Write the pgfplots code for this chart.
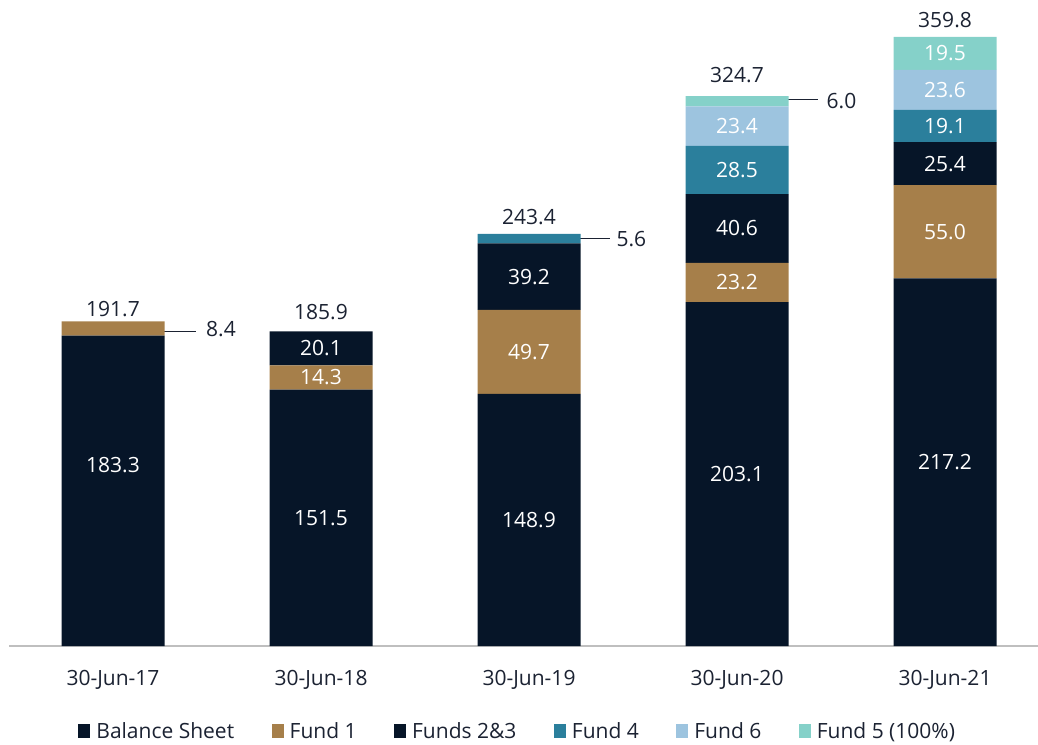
\documentclass[border=0pt]{standalone}
\usepackage{pgfplots}
\pgfplotsset{compat=1.18}
\usepackage{fontspec}
\setmainfont{Open Sans}
\definecolor{navy}{HTML}{061528}
\definecolor{gold}{HTML}{A67F4A}
\definecolor{teal}{HTML}{2B7F9C}
\definecolor{lblue}{HTML}{9DC4DF}
\definecolor{mint}{HTML}{85D1C9}
\definecolor{labdark}{HTML}{1B2232}
\definecolor{axisgray}{HTML}{BFBFBF}
\newcommand{\lf}{\fontsize{21}{25}\selectfont}
\pgfplotsset{
  seglabel/.style={
    draw=none,
    visualization depends on=rawy \as \myrawy,
    nodes near coords={\ifdim\myrawy pt<9pt\relax\else\pgfmathprintnumber[fixed,fixed zerofill,precision=1,assume math mode=true]{\myrawy}\fi},
    every node near coord/.style={anchor=center, text=white, font=\lf,
      yshift={(\myrawy>183)*(\myrawy<184)*25.5pt}},
  },
}
\begin{document}
\begin{tikzpicture}
\useasboundingbox (-9.3pt,-98pt) rectangle (1028.7pt,646pt);
\begin{axis}[
  at={(0,0)}, anchor=south west, scale only axis,
  x=208pt, y=1.693pt,
  xmin=-0.4986, xmax=4.4471, ymin=0, ymax=381.6,
  ybar stacked, bar width=103pt,
  axis x line=bottom, axis y line=none,
  x axis line style={-, draw=axisgray, line width=1.5pt},
  xtick={0,1,2,3,4},
  xticklabels={30-Jun-17,30-Jun-18,30-Jun-19,30-Jun-20,30-Jun-21},
  major tick length=0pt, ytick=\empty,
  xticklabel style={font=\lf, text=labdark, yshift=-20.5pt},
  clip=false,
  legend columns=6,
  legend image code/.code={\fill[#1] (0pt,-7pt) rectangle (12pt,7pt); \path (16pt,0pt);},
  legend style={at={(0.4942,-0.1315)}, anchor=center, draw=none, fill=none,
    font=\lf, text=labdark,
    /tikz/every even column/.append style={column sep=35.5pt},
    /tikz/every odd column/.append style={column sep=0pt}},
]
\addplot[fill=navy, seglabel] coordinates {(0,183.3) (1,151.5) (2,148.9) (3,203.1) (4,217.2)};
\addplot[fill=gold, seglabel] coordinates {(0,8.4) (1,14.3) (2,49.7) (3,23.2) (4,55.0)};
\addplot[fill=navy, seglabel] coordinates {(0,0) (1,20.1) (2,39.2) (3,40.6) (4,25.4)};
\addplot[fill=teal, seglabel] coordinates {(0,0) (1,0) (2,5.6) (3,28.5) (4,19.1)};
\addplot[fill=lblue, seglabel] coordinates {(0,0) (1,0) (2,0) (3,23.4) (4,23.6)};
\addplot[fill=mint, seglabel] coordinates {(0,0) (1,0) (2,0) (3,6.0) (4,19.5)};
\legend{Balance Sheet, Fund 1, Funds 2\&3, Fund 4, Fund 6, Fund 5 (100\%)}
% totals
\node[anchor=base, inner sep=0pt, text=labdark, font=\lf, yshift=5pt] at (axis cs:0,191.7) {191.7};
\node[anchor=base, inner sep=0pt, text=labdark, font=\lf, yshift=11.5pt] at (axis cs:1,185.9) {185.9};
\node[anchor=base, inner sep=0pt, text=labdark, font=\lf, yshift=9pt] at (axis cs:2,243.4) {243.4};
\node[anchor=base, inner sep=0pt, text=labdark, font=\lf, yshift=14pt] at (axis cs:3,324.8) {324.7};
\node[anchor=base, inner sep=0pt, text=labdark, font=\lf, yshift=9pt] at (axis cs:4,359.8) {359.8};
% leader lines for small segments
\draw[labdark, line width=0.9pt] (axis cs:0.23,186.0) -- (axis cs:0.40,186.0);
\node[anchor=west, inner sep=0pt, text=labdark, font=\lf] at (axis cs:0.447,187.5) {8.4};
\draw[labdark, line width=0.9pt] (axis cs:2.23,240.6) -- (axis cs:2.39,240.6);
\node[anchor=west, inner sep=0pt, text=labdark, font=\lf] at (axis cs:2.42,240.6) {5.6};
\draw[labdark, line width=0.9pt] (axis cs:3.22,322.9) -- (axis cs:3.39,322.9);
\node[anchor=west, inner sep=0pt, text=labdark, font=\lf] at (axis cs:3.43,321.8) {6.0};
\end{axis}
\end{tikzpicture}
\end{document}
